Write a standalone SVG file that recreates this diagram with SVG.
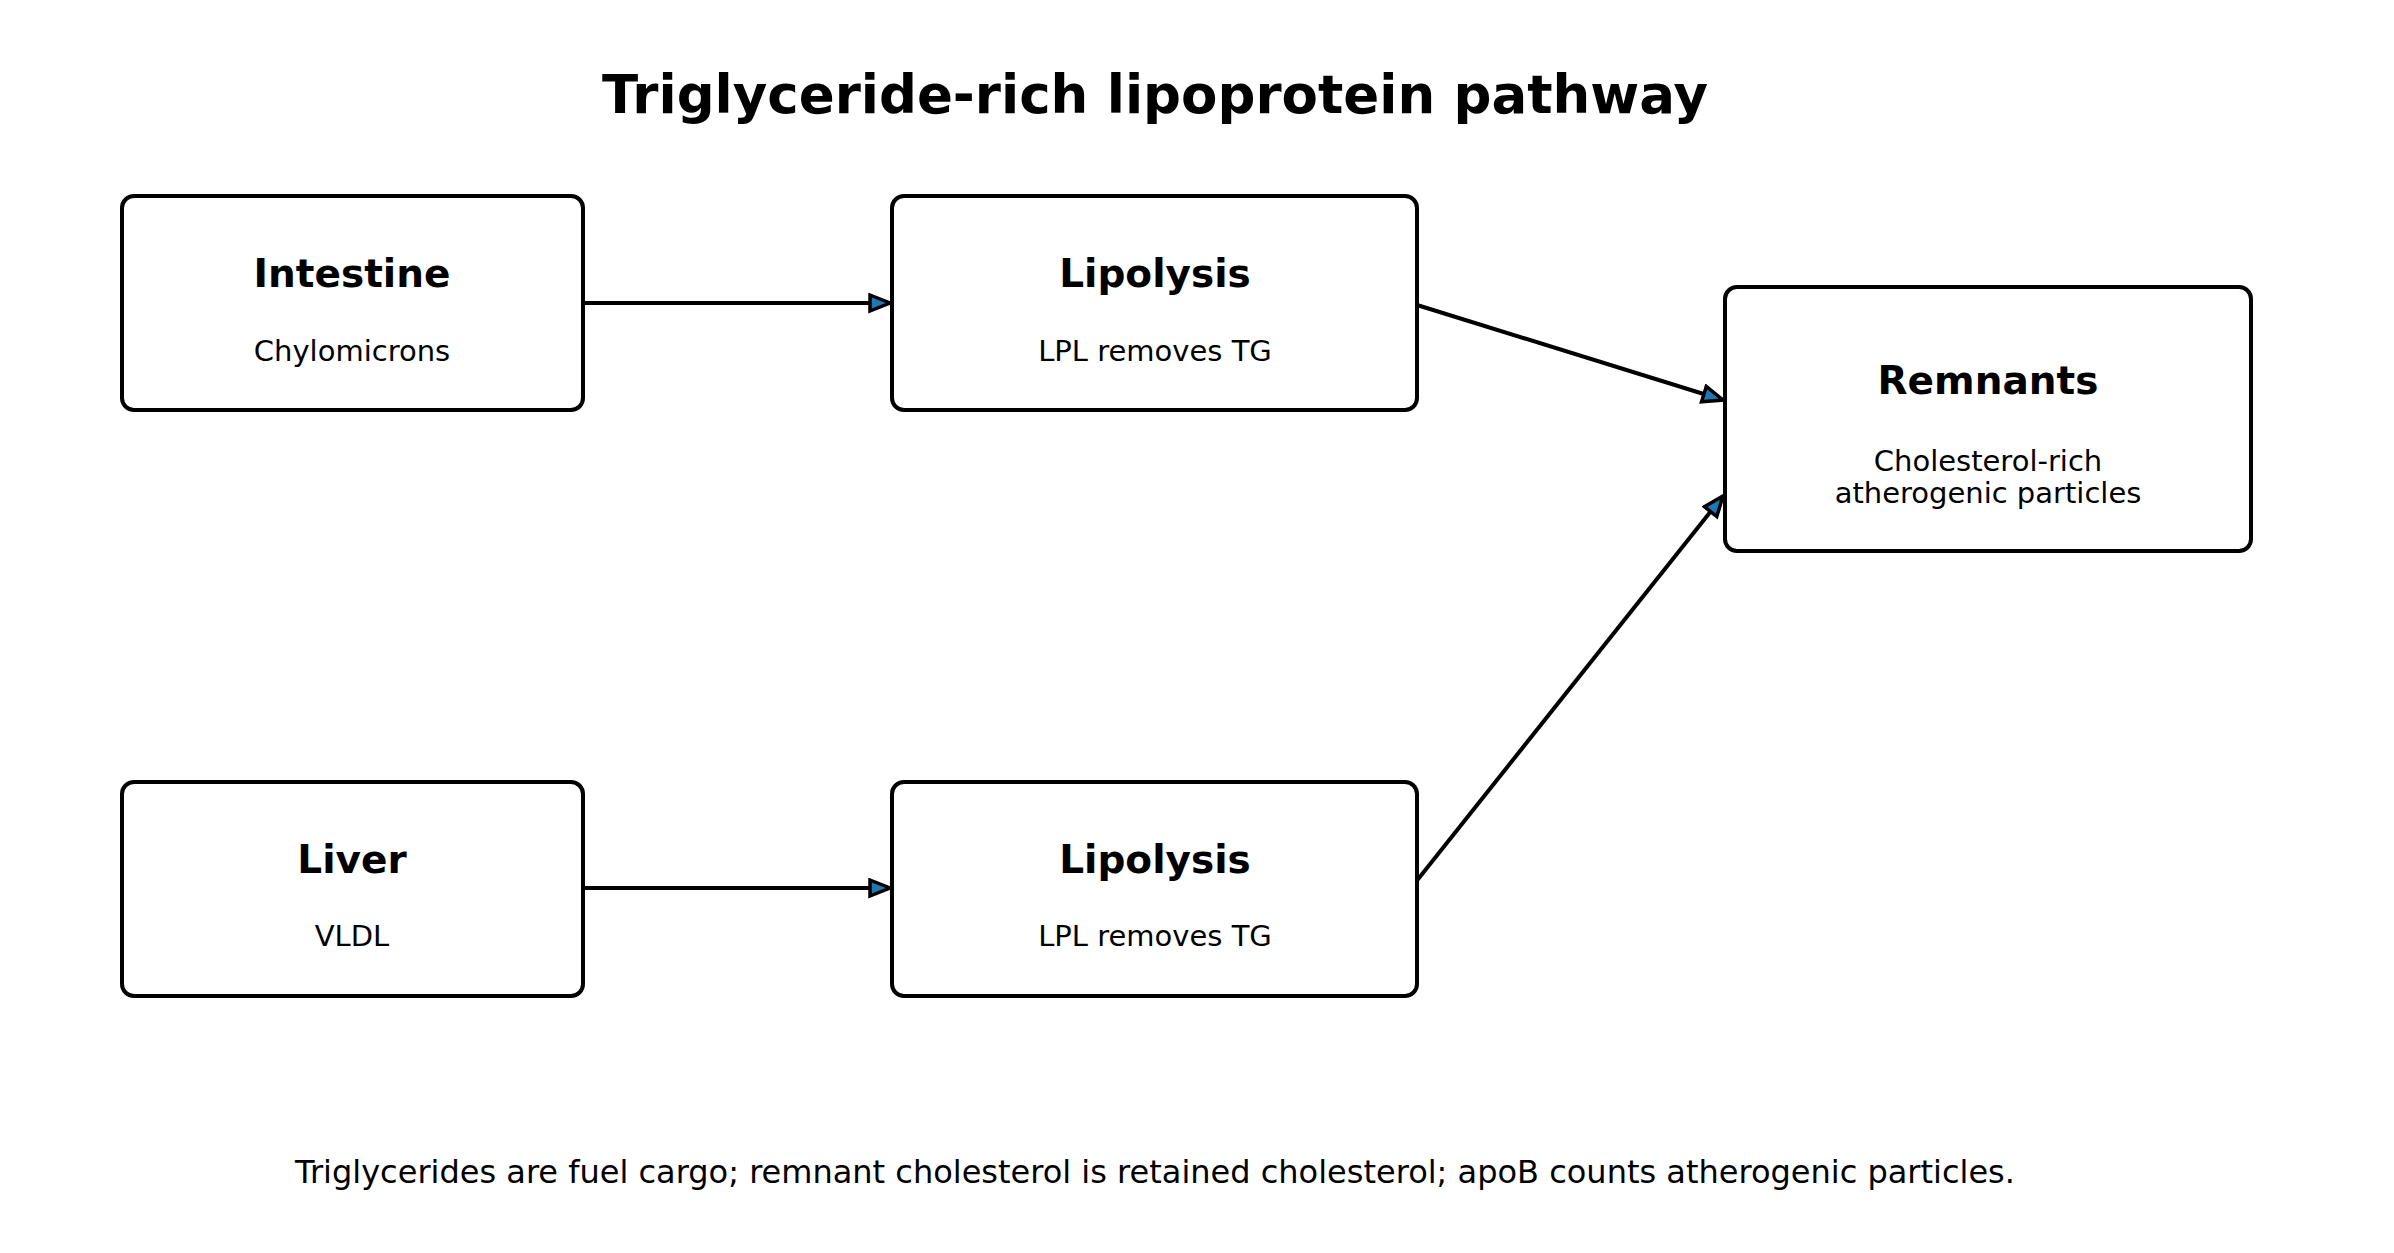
<svg xmlns="http://www.w3.org/2000/svg" width="2394" height="1253" viewBox="0 0 2394 1253">
<style>
.box{fill:#fff;stroke:#000;stroke-width:4}
.t{font-family:"DejaVu Sans",sans-serif;font-weight:bold;font-size:39px;text-anchor:middle}
.s{font-family:"DejaVu Sans",sans-serif;font-size:29px;text-anchor:middle}
.c{stroke:#000;stroke-width:4;fill:none;marker-end:url(#a)}
</style>
<defs><marker id="a" markerWidth="30" markerHeight="24" refX="22" refY="10" orient="auto" markerUnits="userSpaceOnUse"><path d="M2,2 L22,10 L2,18 Z" fill="#1f77b4" stroke="#000" stroke-width="3.5" stroke-linejoin="miter"/></marker></defs>
<rect width="2394" height="1253" fill="#fff"/>
<text x="1155" y="113" font-family="DejaVu Sans,sans-serif" font-weight="bold" font-size="53" text-anchor="middle">Triglyceride-rich lipoprotein pathway</text>
<g id="connectors">
<line class="c" x1="584" y1="303" x2="890" y2="303"/>
<line class="c" x1="1417" y1="305" x2="1723" y2="400"/>
<line class="c" x1="584" y1="888" x2="890" y2="888"/>
<line class="c" x1="1415" y1="883" x2="1723" y2="496"/>
</g>
<g id="intestine"><rect class="box" x="122" y="196" width="461" height="214" rx="12"/><text class="t" x="352" y="287">Intestine</text><text class="s" x="352" y="361">Chylomicrons</text></g>
<g id="lipolysis1"><rect class="box" x="892" y="196" width="525" height="214" rx="12"/><text class="t" x="1155" y="287">Lipolysis</text><text class="s" x="1155" y="361">LPL removes TG</text></g>
<g id="remnants"><rect class="box" x="1725" y="287" width="526" height="264" rx="12"/><text class="t" x="1988" y="394">Remnants</text><text class="s" x="1988" y="471">Cholesterol-rich</text><text class="s" x="1988" y="503">atherogenic particles</text></g>
<g id="liver"><rect class="box" x="122" y="782" width="461" height="214" rx="12"/><text class="t" x="352" y="873">Liver</text><text class="s" x="352" y="946">VLDL</text></g>
<g id="lipolysis2"><rect class="box" x="892" y="782" width="525" height="214" rx="12"/><text class="t" x="1155" y="873">Lipolysis</text><text class="s" x="1155" y="946">LPL removes TG</text></g>
<text x="1155" y="1183" font-family="DejaVu Sans,sans-serif" font-size="32" text-anchor="middle">Triglycerides are fuel cargo; remnant cholesterol is retained cholesterol; apoB counts atherogenic particles.</text>
</svg>
